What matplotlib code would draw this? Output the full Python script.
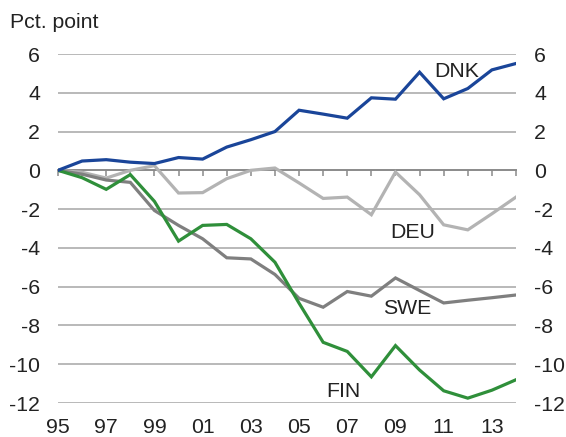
import matplotlib
matplotlib.use("Agg")
import matplotlib.pyplot as plt

years = list(range(1995, 2015))
dnk = [0.0, 0.48, 0.55, 0.42, 0.35, 0.66, 0.58, 1.2, 1.58, 2.0, 3.1, 2.9, 2.69, 3.74, 3.67, 5.06, 3.69, 4.22, 5.18, 5.51]
deu = [0.0, -0.1, -0.4, 0.0, 0.24, -1.17, -1.15, -0.43, 0.0, 0.12, -0.65, -1.45, -1.38, -2.29, -0.09, -1.26, -2.81, -3.07, -2.24, -1.38]
swe = [0.0, -0.2, -0.5, -0.62, -2.07, -2.84, -3.53, -4.51, -4.57, -5.37, -6.6, -7.06, -6.25, -6.49, -5.55, -6.2, -6.84, -6.7, -6.57, -6.43]
fin = [0.0, -0.38, -0.98, -0.22, -1.6, -3.65, -2.84, -2.79, -3.53, -4.74, -6.85, -8.87, -9.34, -10.65, -9.04, -10.3, -11.37, -11.75, -11.34, -10.8]
label_years = [1995, 1997, 1999, 2001, 2003, 2005, 2007, 2009, 2011, 2013]
label_texts = ["95", "97", "99", "01", "03", "05", "07", "09", "11", "13"]
yticks = [-12, -10, -8, -6, -4, -2, 0, 2, 4, 6]

plt.rcParams['font.family'] = ['Liberation Sans', 'DejaVu Sans']
fs = 15.3

fig = plt.figure(figsize=(5.66, 4.37), dpi=100)
ax = fig.add_axes([58/566, 34/437, 458/566, 349/437])
ax.set_xlim(1995, 2014)
ax.set_ylim(-12, 6)

for v in yticks:
    if v != 0:
        ax.axhline(v, color='#a6a6a6', lw=1.1, zorder=1)

ax.plot(years, deu, color='#b3b3b3', lw=2.3, zorder=3, solid_joinstyle='miter')
ax.plot(years, swe, color='#7f7f7f', lw=2.3, zorder=3, solid_joinstyle='miter')
ax.plot(years, fin, color='#2f8f3a', lw=2.3, zorder=3, solid_joinstyle='miter')
ax.plot(years, dnk, color='#1a4599', lw=2.3, zorder=4, solid_joinstyle='miter')

for s in ['top', 'left', 'right']:
    ax.spines[s].set_visible(False)
ax.spines['bottom'].set_position(('data', 0))
ax.spines['bottom'].set_color('#8a8a8a')
ax.spines['bottom'].set_linewidth(1.4)
ax.spines['bottom'].set_zorder(2)
ax.set_xticks(years)
ax.tick_params(axis='x', direction='out', length=4.5, width=1.1, color='#8a8a8a', labelbottom=False)

ax.set_yticks(yticks)
ax.set_yticklabels([str(v) for v in yticks])
ax.tick_params(axis='y', length=0, labelsize=fs, labelleft=True, labelright=True, pad=13, labelcolor='#222222')

sec = ax.secondary_xaxis(0)
sec.set_xticks(label_years)
sec.set_xticklabels(label_texts)
sec.tick_params(length=0, labelsize=fs, pad=11, labelcolor='#222222')
sec.spines['bottom'].set_visible(False)

ax.text(2011.56, 5.12, "DNK", fontsize=fs, ha='center', va='center', color='#222222')
ax.text(2009.73, -3.2, "DEU", fontsize=fs, ha='center', va='center', color='#222222')
ax.text(2009.48, -7.13, "SWE", fontsize=fs, ha='center', va='center', color='#222222')
ax.text(2006.83, -11.42, "FIN", fontsize=fs, ha='center', va='center', color='#222222')

fig.text(10/566, 1 - 22/437, "Pct. point", fontsize=fs, ha='left', va='center', color='#222222')

fig.savefig("out.png", dpi=100)
